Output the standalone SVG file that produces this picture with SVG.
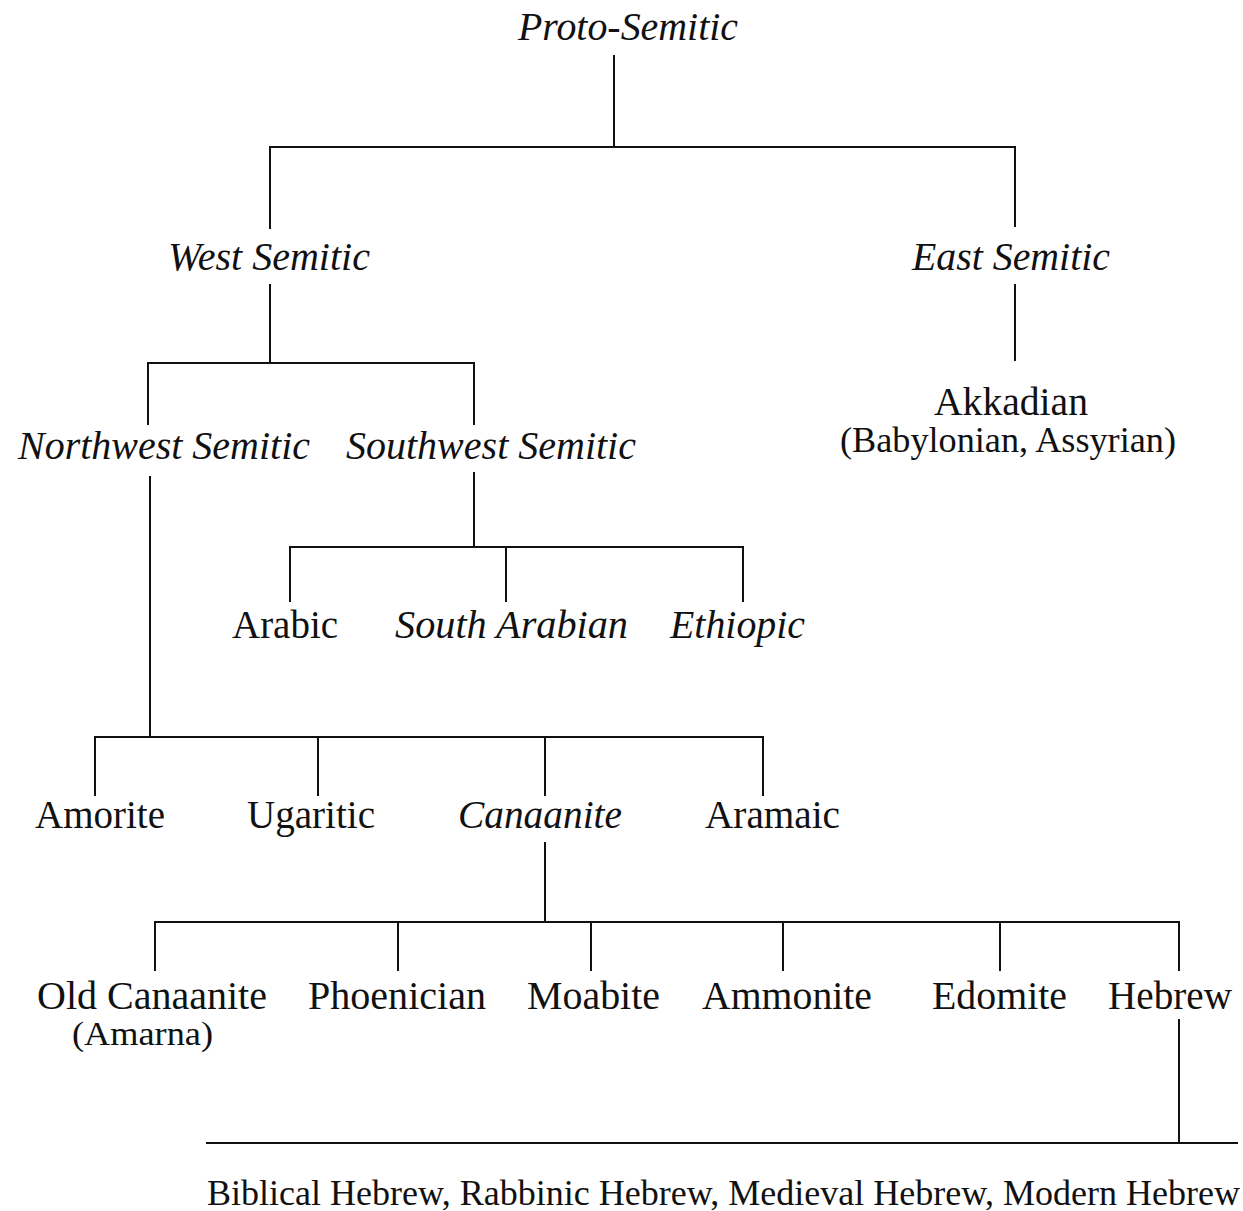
<svg xmlns="http://www.w3.org/2000/svg" width="1243" height="1211" viewBox="0 0 1243 1211">
  <style>
    .bg { fill: #ffffff; }
    text { font-family: "Liberation Serif", "Times New Roman", serif; fill: #111111; }
    .lbl { font-size: 39px; }
    .it { font-style: italic; }
    .sub { font-size: 35px; }
    .small { font-size: 33px; }
    .edges path { fill: none; stroke: #111111; stroke-width: 2; stroke-linecap: square; }
  </style>
  <rect class="bg" x="0" y="0" width="1243" height="1211"/>

  <!-- tree connectors -->
  <g class="edges" id="connectors">
    <!-- Proto-Semitic -> West / East -->
    <path d="M614 56 V147 M270 147 H1015 M270 147 V228 M1015 147 V226"/>
    <!-- West Semitic -> Northwest / Southwest -->
    <path d="M270 285 V363 M148 363 H474 M148 363 V424 M474 363 V424"/>
    <!-- East Semitic -> Akkadian -->
    <path d="M1015 285 V360"/>
    <!-- Southwest Semitic -> Arabic / South Arabian / Ethiopic -->
    <path d="M474 473 V547 M290 547 H743 M290 547 V601 M506 547 V601 M743 547 V601"/>
    <!-- Northwest Semitic -> Amorite / Ugaritic / Canaanite / Aramaic -->
    <path d="M150 477 V737 M95 737 H763 M95 737 V795 M318 737 V795 M545 737 V795 M763 737 V795"/>
    <!-- Canaanite -> its branches -->
    <path d="M545 843 V922 M155 922 H1179 M155 922 V970 M398 922 V970 M591 922 V970 M783 922 V970 M1000 922 V970 M1179 922 V970"/>
    <!-- Hebrew -> its periods -->
    <path d="M1179 1020 V1143 M207 1143 H1237"/>
  </g>

  <g id="proto-semitic">
    <text class="lbl it" x="518" y="40" textLength="220" lengthAdjust="spacingAndGlyphs">Proto-Semitic</text>
  </g>
  <g id="west-semitic">
    <text class="lbl it" x="168" y="270" textLength="202" lengthAdjust="spacingAndGlyphs">West Semitic</text>
  </g>
  <g id="east-semitic">
    <text class="lbl it" x="912" y="270" textLength="198" lengthAdjust="spacingAndGlyphs">East Semitic</text>
  </g>
  <g id="akkadian">
    <text class="lbl" x="934" y="415" textLength="154" lengthAdjust="spacingAndGlyphs">Akkadian</text>
    <text class="sub" x="840" y="452" textLength="336" lengthAdjust="spacingAndGlyphs">(Babylonian, Assyrian)</text>
  </g>
  <g id="northwest-semitic">
    <text class="lbl it" x="18" y="459" textLength="292" lengthAdjust="spacingAndGlyphs">Northwest Semitic</text>
  </g>
  <g id="southwest-semitic">
    <text class="lbl it" x="346" y="459" textLength="290" lengthAdjust="spacingAndGlyphs">Southwest Semitic</text>
  </g>
  <g id="arabic">
    <text class="lbl" x="232" y="638" textLength="106" lengthAdjust="spacingAndGlyphs">Arabic</text>
  </g>
  <g id="south-arabian">
    <text class="lbl it" x="395" y="638" textLength="233" lengthAdjust="spacingAndGlyphs">South Arabian</text>
  </g>
  <g id="ethiopic">
    <text class="lbl it" x="670" y="638" textLength="135" lengthAdjust="spacingAndGlyphs">Ethiopic</text>
  </g>
  <g id="amorite">
    <text class="lbl" x="35" y="828" textLength="130" lengthAdjust="spacingAndGlyphs">Amorite</text>
  </g>
  <g id="ugaritic">
    <text class="lbl" x="247" y="828" textLength="128" lengthAdjust="spacingAndGlyphs">Ugaritic</text>
  </g>
  <g id="canaanite">
    <text class="lbl it" x="458" y="828" textLength="164" lengthAdjust="spacingAndGlyphs">Canaanite</text>
  </g>
  <g id="aramaic">
    <text class="lbl" x="705" y="828" textLength="135" lengthAdjust="spacingAndGlyphs">Aramaic</text>
  </g>
  <g id="old-canaanite">
    <text class="lbl" x="37" y="1009" textLength="230" lengthAdjust="spacingAndGlyphs">Old Canaanite</text>
    <text class="small" x="72" y="1045" textLength="141" lengthAdjust="spacingAndGlyphs">(Amarna)</text>
  </g>
  <g id="phoenician">
    <text class="lbl" x="308" y="1009" textLength="178" lengthAdjust="spacingAndGlyphs">Phoenician</text>
  </g>
  <g id="moabite">
    <text class="lbl" x="527" y="1009" textLength="133" lengthAdjust="spacingAndGlyphs">Moabite</text>
  </g>
  <g id="ammonite">
    <text class="lbl" x="702" y="1009" textLength="170" lengthAdjust="spacingAndGlyphs">Ammonite</text>
  </g>
  <g id="edomite">
    <text class="lbl" x="932" y="1009" textLength="135" lengthAdjust="spacingAndGlyphs">Edomite</text>
  </g>
  <g id="hebrew">
    <text class="lbl" x="1108" y="1009" textLength="124" lengthAdjust="spacingAndGlyphs">Hebrew</text>
  </g>
  <g id="hebrew-periods">
    <text class="sub" x="207" y="1205" textLength="1033" lengthAdjust="spacingAndGlyphs">Biblical Hebrew, Rabbinic Hebrew, Medieval Hebrew, Modern Hebrew</text>
  </g>
</svg>
